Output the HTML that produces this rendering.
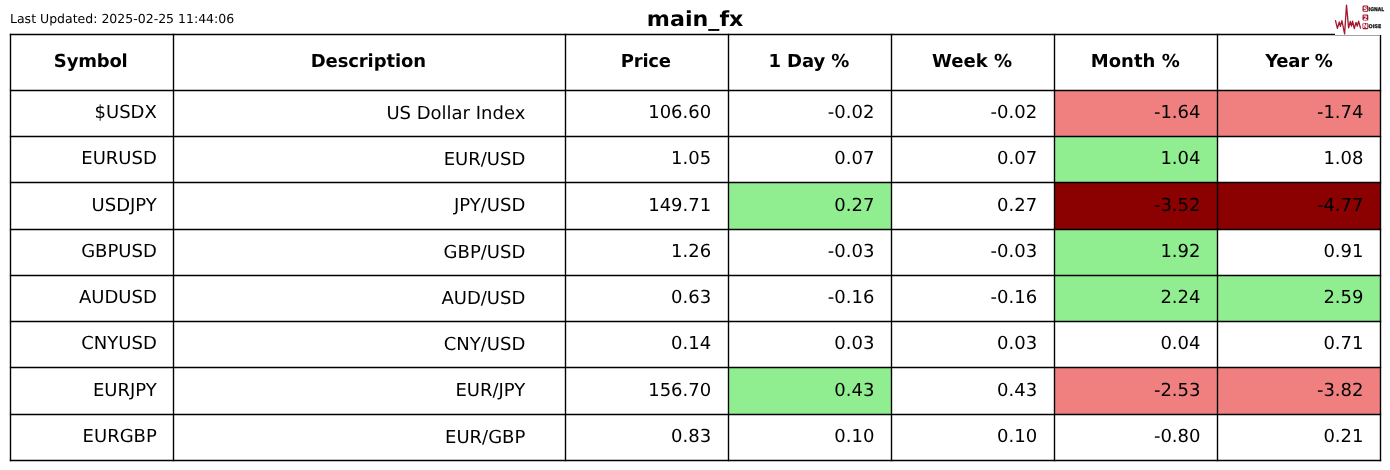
<!DOCTYPE html>
<html><head><meta charset="utf-8"><style>
html,body{margin:0;padding:0;background:#fff;}
body{width:1390px;height:470px;overflow:hidden;position:relative;}
svg{position:absolute;left:0;top:0;will-change:transform;}
text{font-family:"DejaVu Sans","Liberation Sans",sans-serif;fill:#000;text-rendering:geometricPrecision;}
</style></head><body>
<svg width="1390" height="470" viewBox="0 0 1390 470">

<rect x="1054.5" y="90.5" width="163.0" height="46.0" fill="#f08080"/>
<rect x="1217.5" y="90.5" width="163.0" height="46.0" fill="#f08080"/>
<rect x="1054.5" y="136.5" width="163.0" height="46.0" fill="#90ee90"/>
<rect x="728.5" y="182.5" width="163.0" height="47.0" fill="#90ee90"/>
<rect x="1054.5" y="182.5" width="163.0" height="47.0" fill="#8b0000"/>
<rect x="1217.5" y="182.5" width="163.0" height="47.0" fill="#8b0000"/>
<rect x="1054.5" y="229.5" width="163.0" height="46.0" fill="#90ee90"/>
<rect x="1054.5" y="275.5" width="163.0" height="46.0" fill="#90ee90"/>
<rect x="1217.5" y="275.5" width="163.0" height="46.0" fill="#90ee90"/>
<rect x="728.5" y="367.5" width="163.0" height="47.0" fill="#90ee90"/>
<rect x="1054.5" y="367.5" width="163.0" height="47.0" fill="#f08080"/>
<rect x="1217.5" y="367.5" width="163.0" height="47.0" fill="#f08080"/>
<g stroke="#000" stroke-width="1.39" fill="none">
<line x1="9.805" y1="34.5" x2="1335" y2="34.5"/>
<line x1="9.805" y1="90.5" x2="1381.195" y2="90.5"/>
<line x1="9.805" y1="136.5" x2="1381.195" y2="136.5"/>
<line x1="9.805" y1="182.5" x2="1381.195" y2="182.5"/>
<line x1="9.805" y1="229.5" x2="1381.195" y2="229.5"/>
<line x1="9.805" y1="275.5" x2="1381.195" y2="275.5"/>
<line x1="9.805" y1="321.5" x2="1381.195" y2="321.5"/>
<line x1="9.805" y1="367.5" x2="1381.195" y2="367.5"/>
<line x1="9.805" y1="414.5" x2="1381.195" y2="414.5"/>
<line x1="9.805" y1="460.5" x2="1381.195" y2="460.5"/>
<line x1="10.5" y1="33.805" x2="10.5" y2="461.195"/>
<line x1="173.5" y1="33.805" x2="173.5" y2="461.195"/>
<line x1="565.5" y1="33.805" x2="565.5" y2="461.195"/>
<line x1="728.5" y1="33.805" x2="728.5" y2="461.195"/>
<line x1="891.5" y1="33.805" x2="891.5" y2="461.195"/>
<line x1="1054.5" y1="33.805" x2="1054.5" y2="461.195"/>
<line x1="1217.5" y1="33.805" x2="1217.5" y2="461.195"/>
<line x1="1380.5" y1="35" x2="1380.5" y2="461.195"/>
</g>
<line x1="1335" y1="35.5" x2="1380" y2="35.5" stroke="#ccc" stroke-width="1"/>
<text x="90.80" y="67.47" font-size="18.0" font-weight="bold" text-anchor="middle" textLength="73.87" lengthAdjust="spacing">Symbol</text>
<text x="368.40" y="67.47" font-size="18.0" font-weight="bold" text-anchor="middle" textLength="115.22" lengthAdjust="spacing">Description</text>
<text x="645.90" y="67.47" font-size="18.0" font-weight="bold" text-anchor="middle" textLength="50.27" lengthAdjust="spacing">Price</text>
<text x="808.90" y="67.47" font-size="18.0" font-weight="bold" text-anchor="middle" textLength="80.96" lengthAdjust="spacing">1 Day %</text>
<text x="972.10" y="67.47" font-size="18.0" font-weight="bold" text-anchor="middle" textLength="80.10" lengthAdjust="spacing">Week %</text>
<text x="1135.25" y="67.47" font-size="18.0" font-weight="bold" text-anchor="middle" textLength="88.91" lengthAdjust="spacing">Month %</text>
<text x="1299.00" y="67.47" font-size="18.0" font-weight="bold" text-anchor="middle" textLength="67.72" lengthAdjust="spacing">Year %</text>
<text x="156.80" y="118.47" font-size="18.0" text-anchor="end">$USDX</text>
<text x="525.30" y="118.97" font-size="18.0" text-anchor="end">US Dollar Index</text>
<text x="711.20" y="118.47" font-size="18.0" text-anchor="end">106.60</text>
<text x="874.40" y="118.47" font-size="18.0" text-anchor="end">-0.02</text>
<text x="1037.20" y="118.47" font-size="18.0" text-anchor="end">-0.02</text>
<text x="1200.50" y="118.47" font-size="18.0" text-anchor="end">-1.64</text>
<text x="1363.50" y="118.47" font-size="18.0" text-anchor="end">-1.74</text>
<text x="156.80" y="164.47" font-size="18.0" text-anchor="end">EURUSD</text>
<text x="525.30" y="164.97" font-size="18.0" text-anchor="end">EUR/USD</text>
<text x="711.20" y="164.47" font-size="18.0" text-anchor="end">1.05</text>
<text x="874.40" y="164.47" font-size="18.0" text-anchor="end">0.07</text>
<text x="1037.20" y="164.47" font-size="18.0" text-anchor="end">0.07</text>
<text x="1200.50" y="164.47" font-size="18.0" text-anchor="end">1.04</text>
<text x="1363.50" y="164.47" font-size="18.0" text-anchor="end">1.08</text>
<text x="156.80" y="210.97" font-size="18.0" text-anchor="end">USDJPY</text>
<text x="525.30" y="211.47" font-size="18.0" text-anchor="end">JPY/USD</text>
<text x="711.20" y="210.97" font-size="18.0" text-anchor="end">149.71</text>
<text x="874.40" y="210.97" font-size="18.0" text-anchor="end">0.27</text>
<text x="1037.20" y="210.97" font-size="18.0" text-anchor="end">0.27</text>
<text x="1200.50" y="210.97" font-size="18.0" text-anchor="end">-3.52</text>
<text x="1363.50" y="210.97" font-size="18.0" text-anchor="end">-4.77</text>
<text x="156.80" y="257.47" font-size="18.0" text-anchor="end">GBPUSD</text>
<text x="525.30" y="257.97" font-size="18.0" text-anchor="end">GBP/USD</text>
<text x="711.20" y="257.47" font-size="18.0" text-anchor="end">1.26</text>
<text x="874.40" y="257.47" font-size="18.0" text-anchor="end">-0.03</text>
<text x="1037.20" y="257.47" font-size="18.0" text-anchor="end">-0.03</text>
<text x="1200.50" y="257.47" font-size="18.0" text-anchor="end">1.92</text>
<text x="1363.50" y="257.47" font-size="18.0" text-anchor="end">0.91</text>
<text x="156.80" y="303.47" font-size="18.0" text-anchor="end">AUDUSD</text>
<text x="525.30" y="303.97" font-size="18.0" text-anchor="end">AUD/USD</text>
<text x="711.20" y="303.47" font-size="18.0" text-anchor="end">0.63</text>
<text x="874.40" y="303.47" font-size="18.0" text-anchor="end">-0.16</text>
<text x="1037.20" y="303.47" font-size="18.0" text-anchor="end">-0.16</text>
<text x="1200.50" y="303.47" font-size="18.0" text-anchor="end">2.24</text>
<text x="1363.50" y="303.47" font-size="18.0" text-anchor="end">2.59</text>
<text x="156.80" y="349.47" font-size="18.0" text-anchor="end">CNYUSD</text>
<text x="525.30" y="349.97" font-size="18.0" text-anchor="end">CNY/USD</text>
<text x="711.20" y="349.47" font-size="18.0" text-anchor="end">0.14</text>
<text x="874.40" y="349.47" font-size="18.0" text-anchor="end">0.03</text>
<text x="1037.20" y="349.47" font-size="18.0" text-anchor="end">0.03</text>
<text x="1200.50" y="349.47" font-size="18.0" text-anchor="end">0.04</text>
<text x="1363.50" y="349.47" font-size="18.0" text-anchor="end">0.71</text>
<text x="156.80" y="395.97" font-size="18.0" text-anchor="end">EURJPY</text>
<text x="525.30" y="396.47" font-size="18.0" text-anchor="end">EUR/JPY</text>
<text x="711.20" y="395.97" font-size="18.0" text-anchor="end">156.70</text>
<text x="874.40" y="395.97" font-size="18.0" text-anchor="end">0.43</text>
<text x="1037.20" y="395.97" font-size="18.0" text-anchor="end">0.43</text>
<text x="1200.50" y="395.97" font-size="18.0" text-anchor="end">-2.53</text>
<text x="1363.50" y="395.97" font-size="18.0" text-anchor="end">-3.82</text>
<text x="156.80" y="442.47" font-size="18.0" text-anchor="end">EURGBP</text>
<text x="525.30" y="442.97" font-size="18.0" text-anchor="end">EUR/GBP</text>
<text x="711.20" y="442.47" font-size="18.0" text-anchor="end">0.83</text>
<text x="874.40" y="442.47" font-size="18.0" text-anchor="end">0.10</text>
<text x="1037.20" y="442.47" font-size="18.0" text-anchor="end">0.10</text>
<text x="1200.50" y="442.47" font-size="18.0" text-anchor="end">-0.80</text>
<text x="1363.50" y="442.47" font-size="18.0" text-anchor="end">0.21</text>
<text transform="translate(695.15,25.7) scale(1,0.94)" x="0" y="0" font-size="22.2" font-weight="bold" text-anchor="middle">main_fx</text>
<text x="10" y="23" font-size="12.5">Last Updated: 2025-02-25 11:44:06</text>
<rect x="1335" y="0" width="55" height="35" fill="#fff"/>
<line x1="1335" y1="35.5" x2="1380.7" y2="35.5" stroke="#000" stroke-opacity="0.2" stroke-width="1"/>
<polyline points="1335.5,20.7 1337.4,28.3 1339.3,22 1340.4,26.4 1341.9,20.7 1344.6,33.9 1346.5,5.1 1348.6,27.9 1350.3,21.5 1351.5,26.2 1352.6,21.1 1354.3,28.6 1356,22.4 1357.3,26.2 1358.6,21.1 1360.5,28.1" fill="none" stroke="#a3172f" stroke-width="1.3" stroke-linejoin="round" stroke-linecap="round"/>
<rect x="1362.5" y="5.6" width="5.8" height="6.2" rx="1.3" fill="#a3142c"/>
<text x="1365.4" y="10.899999999999999" font-size="6.1" font-weight="bold" text-anchor="middle" style="fill:#fff">S</text>
<rect x="1362.5" y="14.4" width="5.8" height="6.2" rx="1.3" fill="#a3142c"/>
<text x="1365.4" y="19.7" font-size="6.1" font-weight="bold" text-anchor="middle" style="fill:#fff">2</text>
<rect x="1362.5" y="23.0" width="5.8" height="6.2" rx="1.3" fill="#a3142c"/>
<text x="1365.4" y="28.3" font-size="6.1" font-weight="bold" text-anchor="middle" style="fill:#fff">N</text>
<text x="1368.6" y="11" font-size="5" font-weight="bold" textLength="15.6" lengthAdjust="spacingAndGlyphs" style="fill:#111;stroke:#111;stroke-width:0.25">IGNAL</text>
<text x="1368.6" y="28.3" font-size="5" font-weight="bold" textLength="12.8" lengthAdjust="spacingAndGlyphs" style="fill:#111;stroke:#111;stroke-width:0.25">OISE</text>
</svg>
</body></html>
